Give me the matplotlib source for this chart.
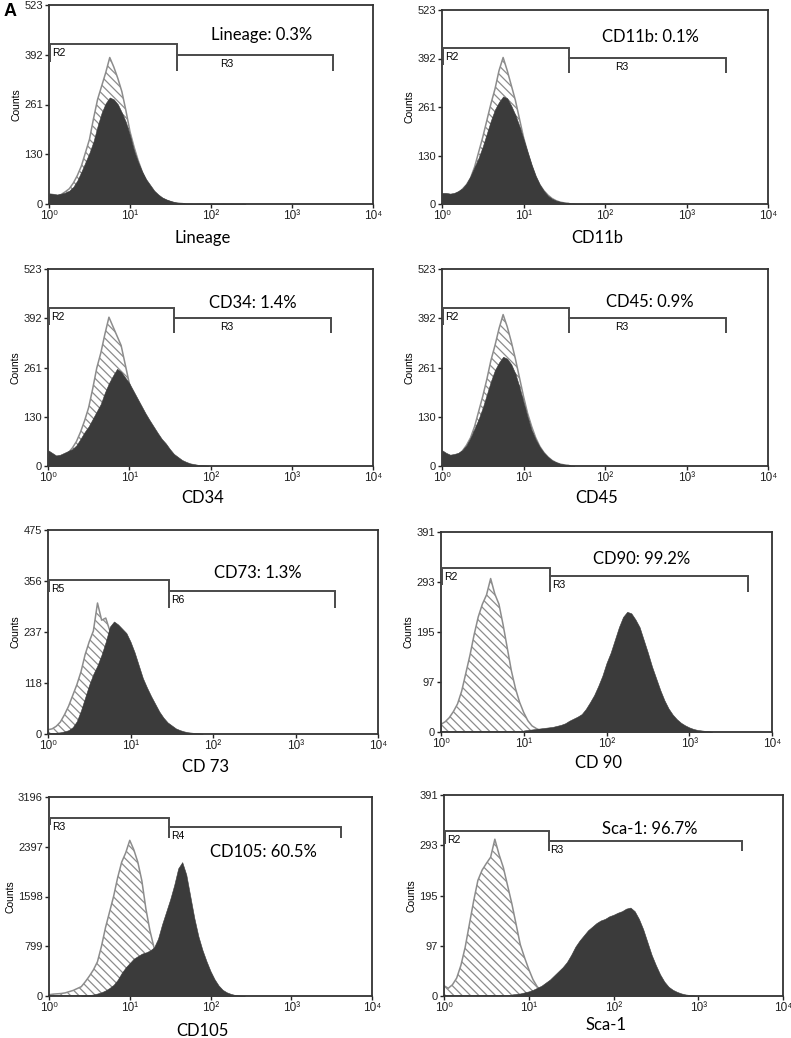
import numpy as np
import matplotlib
matplotlib.use("Agg")
import matplotlib.pyplot as plt

plt.rcParams['font.family'] = ['Liberation Sans', 'DejaVu Sans']
plt.rcParams['hatch.linewidth'] = 0.9

# ---------------- data ----------------
BIN = 0.05  # histogram channel width in log10 units

markers = ["Lineage", "CD11b", "CD34", "CD45", "CD 73", "CD 90", "CD105", "Sca-1"]
pct_labels = ["Lineage: 0.3%", "CD11b: 0.1%", "CD34: 1.4%", "CD45: 0.9%",
              "CD73: 1.3%", "CD90: 99.2%", "CD105: 60.5%", "Sca-1: 96.7%"]
y_max = [523, 523, 523, 523, 475, 391, 3196, 391]
y_tick_labels = [[0, 130, 261, 392, 523]] * 4 + [[0, 118, 237, 356, 475],
                 [0, 97, 195, 293, 391], [0, 799, 1598, 2397, 3196], [0, 97, 195, 293, 391]]
x_tick_labels = ["10\u2070", "10\u00b9", "10\u00b2", "10\u00b3", "10\u2074"]

# isotype control histograms (hatched): start channel (log10) and counts
lineage_ctrl_start = 0.0
lineage_ctrl = [22, 20, 20, 25, 32, 40, 55, 75, 100, 135, 170, 225, 275, 310, 345, 385, 360, 330,
                295, 245, 190, 150, 115, 85, 60, 42, 30, 20, 14, 9, 6, 3, 2, 1]
cd11b_ctrl_start = 0.0
cd11b_ctrl = [25, 22, 22, 25, 30, 40, 52, 70, 100, 140, 180, 225, 270, 310, 360, 395, 360, 320,
              280, 230, 180, 140, 105, 75, 52, 36, 24, 15, 9, 5, 3, 2]
cd34_ctrl_start = 0.0
cd34_ctrl = [20, 18, 18, 20, 25, 35, 48, 65, 90, 120, 155, 205, 260, 300, 350, 395, 370, 345,
             320, 270, 220, 175, 135, 100, 70, 48, 32, 20, 12, 7, 4, 2]
cd45_ctrl_start = 0.0
cd45_ctrl = [25, 22, 22, 25, 30, 40, 55, 75, 105, 145, 185, 230, 280, 320, 365, 402, 370, 330,
             285, 235, 185, 140, 105, 75, 52, 36, 24, 15, 9, 5, 3, 2]
cd73_ctrl_start = 0.0
cd73_ctrl = [10, 12, 18, 28, 45, 65, 90, 115, 145, 185, 215, 240, 305, 265, 270, 240, 200, 160,
             120, 85, 55, 35, 20, 12, 6, 3, 1]
cd90_ctrl_start = 0.0
cd90_ctrl = [15, 20, 28, 40, 55, 80, 115, 150, 190, 225, 250, 268, 300, 270, 250, 210, 165, 120,
             85, 58, 38, 22, 12, 7, 3, 1]
cd105_ctrl_start = 0.0
cd105_ctrl = [20, 30, 35, 40, 50, 70, 90, 120, 150, 230, 320, 420, 550, 800, 1100, 1350, 1600,
              1900, 2150, 2300, 2500, 2350, 2150, 1850, 1400, 1050, 780, 550, 350, 200, 100, 50,
              20, 8]
sca1_ctrl_start = 0.0
sca1_ctrl = [20, 15, 22, 35, 60, 95, 140, 185, 225, 245, 258, 270, 305, 275, 250, 215, 180, 140,
             100, 75, 52, 32, 18, 10, 5, 2]

# stained sample histograms (dark filled)
lineage_stain_start = 0.0
lineage_stain = [28, 27, 25, 27, 30, 35, 45, 62, 85, 110, 135, 165, 205, 240, 265, 280, 275, 262,
                 240, 215, 180, 140, 110, 85, 65, 50, 35, 25, 17, 12, 8, 5, 3, 2, 1, 1, 0, 1, 0,
                 0, 1, 0, 0, 1, 0, 1, 0, 0, 1]
cd11b_stain_start = 0.0
cd11b_stain = [30, 30, 28, 30, 35, 42, 55, 75, 100, 125, 155, 190, 225, 255, 275, 290, 285, 265,
               240, 210, 175, 140, 105, 75, 52, 35, 22, 14, 9, 6, 4, 2, 2, 1, 1, 0, 1, 0, 1, 0,
               0, 1]
cd34_stain_start = 0.0
cd34_stain = [42, 35, 28, 30, 35, 40, 45, 55, 72, 90, 105, 125, 145, 165, 195, 220, 240, 258, 250,
              235, 220, 200, 180, 160, 140, 122, 105, 88, 72, 60, 45, 32, 24, 16, 11, 7, 5, 3, 2,
              1]
cd45_stain_start = 0.0
cd45_stain = [42, 35, 30, 32, 35, 42, 55, 75, 100, 125, 155, 190, 225, 255, 275, 290, 285, 270,
              245, 210, 170, 130, 95, 70, 50, 35, 24, 15, 10, 6, 4, 2, 1]
cd73_stain_start = 0.0
cd73_stain = [2, 2, 3, 4, 6, 9, 16, 30, 55, 85, 115, 140, 160, 185, 215, 250, 262, 255, 245, 235,
              215, 190, 160, 130, 108, 88, 70, 52, 38, 27, 20, 13, 9, 6, 4, 3, 2, 1]
cd90_stain_start = 1.0
cd90_stain = [3, 4, 5, 6, 7, 8, 9, 10, 12, 14, 17, 22, 26, 30, 35, 45, 58, 72, 90, 110, 135, 155,
              180, 205, 225, 235, 232, 220, 205, 180, 155, 128, 105, 82, 62, 46, 34, 25, 18, 13,
              9, 6, 4, 3, 2, 1]
cd105_stain_start = 0.40
cd105_stain = [5, 10, 15, 25, 40, 60, 90, 130, 180, 260, 370, 460, 530, 600, 640, 680, 700, 730,
               780, 920, 1150, 1350, 1550, 1780, 2050, 2150, 1950, 1600, 1250, 960, 740, 560, 400,
               270, 170, 100, 60, 35, 18, 8, 3]
sca1_stain_start = 0.80
sca1_stain = [3, 4, 5, 7, 9, 12, 16, 20, 26, 32, 40, 48, 56, 66, 80, 96, 108, 118, 128, 135, 142,
              147, 150, 155, 158, 162, 165, 170, 172, 165, 150, 130, 105, 80, 60, 42, 28, 18, 12,
              8, 5, 3, 2, 1]

ctrl_starts = [lineage_ctrl_start, cd11b_ctrl_start, cd34_ctrl_start, cd45_ctrl_start,
               cd73_ctrl_start, cd90_ctrl_start, cd105_ctrl_start, sca1_ctrl_start]
ctrls = [lineage_ctrl, cd11b_ctrl, cd34_ctrl, cd45_ctrl, cd73_ctrl, cd90_ctrl, cd105_ctrl, sca1_ctrl]
stain_starts = [lineage_stain_start, cd11b_stain_start, cd34_stain_start, cd45_stain_start,
                cd73_stain_start, cd90_stain_start, cd105_stain_start, sca1_stain_start]
stains = [lineage_stain, cd11b_stain, cd34_stain, cd45_stain, cd73_stain, cd90_stain,
          cd105_stain, sca1_stain]

# gate markers (data units)
gate_names = [("R2", "R3"), ("R2", "R3"), ("R2", "R3"), ("R2", "R3"),
              ("R5", "R6"), ("R2", "R3"), ("R3", "R4"), ("R2", "R3")]
gate_upper = [420, 420, 419, 419, 358, 321, 2858, 321]
gate_lower = [392, 394, 393, 393, 333, 305, 2714, 301]
gate_left_tick = [373, 375, 375, 375, 330, 287, 2740, 296]
gate_tick_bottom = [350, 353, 353, 353, 293, 274, 2537, 282]
gate_split = [38, 36, 36, 36, 29.5, 21, 31, 17.4]
gate_end = [3240, 3020, 3020, 3020, 3020, 5130, 4170, 3310]

# ---------------- layout ----------------
W, H = 791, 1038
fig = plt.figure(figsize=(W / 100, H / 100), dpi=100)

# axes boxes in pixels: left, top, right, bottom
boxes = [(49, 5, 373, 204), (442, 10, 768, 204),
         (48, 269, 373, 466), (442, 269, 768, 466),
         (48, 530, 378, 734), (441, 532, 772, 732),
         (49, 797, 372, 996), (444, 795, 783, 996)]
pct_pos = [(0.657, 0.85), (0.638, 0.86), (0.63, 0.827), (0.638, 0.832),
           (0.636, 0.79), (0.607, 0.865), (0.663, 0.724), (0.608, 0.83)]
xlabel_y = [238, 238, 498, 498, 767, 763, 1031, 1025]
r2_label_second_mode = [False, False, False, False, True, True, True, True]

DARK = '#3b3b3b'
HATCH_GRAY = '#8c8c8c'
GATE = '#4a4a4a'


def draw_hist(ax, start, counts, **kw):
    counts = np.asarray(counts, float)
    centers = 10 ** (start + BIN * np.arange(len(counts)))
    # close the outline down to the baseline
    x = np.concatenate([[centers[0]], centers, [centers[-1] * 10 ** (BIN / 2)]])
    y = np.concatenate([[0], counts, [0]])
    ax.fill_between(x, 0, y, **kw)


for i, (l, t, r, b) in enumerate(boxes):
    ax = fig.add_axes([l / W, 1 - b / H, (r - l) / W, (b - t) / H])
    ax.set_xscale('log')
    ax.set_xlim(1, 1e4)
    ax.set_ylim(0, y_max[i])

    draw_hist(ax, ctrl_starts[i], ctrls[i], facecolor='white', edgecolor=HATCH_GRAY,
              hatch='\\\\\\\\', linewidth=1.1, zorder=2)
    draw_hist(ax, stain_starts[i], stains[i], facecolor=DARK, edgecolor=DARK,
              linewidth=0.4, zorder=3)

    # gates
    x0 = 10 ** 0.008
    ax.plot([x0, x0], [gate_left_tick[i], gate_upper[i]], color=GATE, lw=1.4, zorder=4,
            solid_capstyle='butt')
    ax.plot([x0, gate_split[i]], [gate_upper[i], gate_upper[i]], color=GATE, lw=1.4, zorder=4)
    ax.plot([gate_split[i], gate_split[i]], [gate_upper[i], gate_tick_bottom[i]], color=GATE,
            lw=1.4, zorder=4, solid_capstyle='butt')
    ax.plot([gate_split[i], gate_end[i]], [gate_lower[i], gate_lower[i]], color=GATE, lw=1.4,
            zorder=4)
    ax.plot([gate_end[i], gate_end[i]], [gate_lower[i], gate_tick_bottom[i]], color=GATE, lw=1.4,
            zorder=4, solid_capstyle='butt')
    dy = y_max[i] * 0.02
    ax.text(10 ** 0.04, gate_upper[i] - dy, gate_names[i][0], fontsize=7.5, va='top',
            ha='left', zorder=5)
    if r2_label_second_mode[i]:
        ax.text(gate_split[i] * 1.04, gate_lower[i] - dy, gate_names[i][1], fontsize=7.5,
                va='top', ha='left', zorder=5)
    else:
        ax.text(10 ** 2.2, gate_lower[i] - dy, gate_names[i][1], fontsize=7.5, va='top',
                ha='center', zorder=5)

    # percentage label
    ax.text(pct_pos[i][0], pct_pos[i][1], pct_labels[i], transform=ax.transAxes,
            fontsize=12, family=['Lato', 'DejaVu Sans'], ha='center', va='center', zorder=5)

    # ticks
    ax.set_xticks([1, 10, 100, 1000, 10000])
    ax.set_xticklabels(x_tick_labels)
    ax.xaxis.set_minor_locator(matplotlib.ticker.NullLocator())
    yt = [y_max[i] * k / 4 for k in range(5)]
    ax.set_yticks(yt)
    ax.set_yticklabels([str(v) for v in y_tick_labels[i]])
    ax.tick_params(axis='both', direction='out', length=3, width=1.0, labelsize=8, pad=1.5,
                   colors='#222222')
    ax.tick_params(axis='x', labelsize=8.5)
    for sp in ax.spines.values():
        sp.set_linewidth(1.3)
        sp.set_color('#333333')
    ax.set_ylabel('Counts', fontsize=7.5, labelpad=2)

    # x label
    fig.text(((l + r) / 2 - 8) / W, 1 - xlabel_y[i] / H, markers[i], fontsize=12,
             family=['Lato', 'DejaVu Sans'], ha='center', va='center')

fig.text(4 / W, 1 - 12 / H, 'A', fontsize=13, fontweight='bold', ha='left', va='center')

fig.savefig('out.png', dpi=100)
